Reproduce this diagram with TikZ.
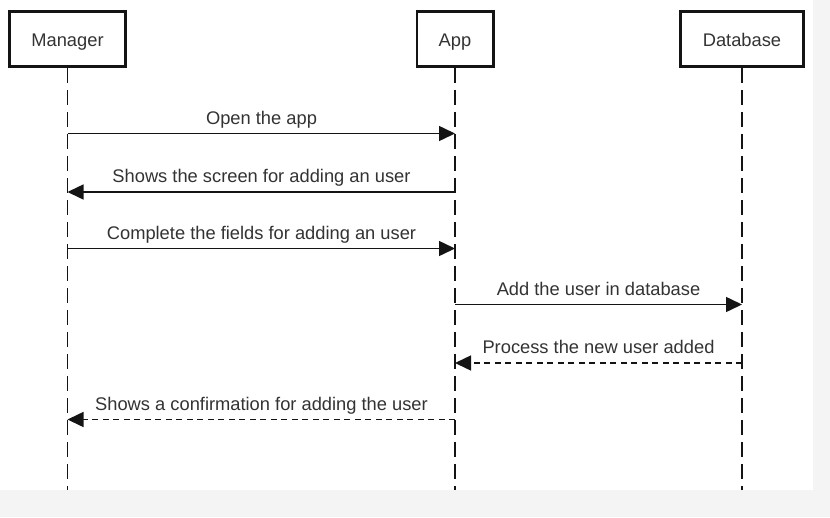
\documentclass[tikz,border=0pt]{standalone}
\usepackage{fontspec}
\setmainfont{Liberation Sans}
\usetikzlibrary{arrows.meta}
\definecolor{txt}{HTML}{333333}
\definecolor{ln}{HTML}{141414}
\definecolor{bg}{HTML}{F4F4F4}
\begin{document}
\begin{tikzpicture}[x=1pt,y=-1pt,
  actor/.style={draw=ln,line width=2.6pt,fill=white,text=txt,font=\fontsize{18.3}{20}\selectfont,minimum height=55.4pt,inner sep=0pt,text height=15pt,text depth=0pt},
  lifeline/.style={draw=ln,line width=1.4pt,dash pattern=on 15pt off 7pt},
  msg/.style={draw=ln,line width=1.5pt,-{Triangle[length=16pt,width=15pt]}},
  reply/.style={msg,dash pattern=on 6pt off 4.5pt},
  lbl/.style={text=txt,font=\fontsize{18.3}{20}\selectfont,anchor=base,inner sep=0pt}]
\useasboundingbox (0,0) rectangle (830,517);
\fill[bg] (0,0) rectangle (830,517);
\fill[white] (0,0) rectangle (813,490);
% actors
\node[actor,minimum width=116.4pt] (man) at (67.5,39) {Manager};
\node[actor,minimum width=76.4pt] (app) at (455,39) {App};
\node[actor,minimum width=123.4pt] (db) at (742,39) {Database};
% lifeline ends
\coordinate (manE) at (67.5,490);
\coordinate (appE) at (455,490);
\coordinate (dbE) at (742,490);
\draw[lifeline] (man.south) -- (manE);
\draw[lifeline] (app.south) -- (appE);
\draw[lifeline] (db.south) -- (dbE);
% message anchor points
\coordinate (m1) at (67.5,133.5); \coordinate (a1) at (455,133.5);
\coordinate (m2) at (67.5,192);   \coordinate (a2) at (455,192);
\coordinate (m3) at (67.5,248.5); \coordinate (a3) at (455,248.5);
\coordinate (a4) at (455,304.5);  \coordinate (d4) at (742,304.5);
\coordinate (a5) at (455,363);    \coordinate (d5) at (742,363);
\coordinate (m6) at (67.5,419.5); \coordinate (a6) at (455,419.5);
\draw[msg] (m1) -- (a1);
\draw[msg] (a2) -- (m2);
\draw[msg] (m3) -- (a3);
\draw[msg] (a4) -- (d4);
\draw[reply] (d5) -- (a5);
\draw[reply] (a6) -- (m6);
\node[lbl] (t1) at (261.5,124) {Open the app};
\node[lbl] (t2) at (261.5,182.5) {Shows the screen for adding an user};
\node[lbl] (t3) at (261.5,239) {Complete the fields for adding an user};
\node[lbl] (t4) at (598.5,295) {Add the user in database};
\node[lbl] (t5) at (598.5,353.5) {Process the new user added};
\node[lbl] (t6) at (261.5,410) {Shows a confirmation for adding the user};
\end{tikzpicture}
\end{document}
